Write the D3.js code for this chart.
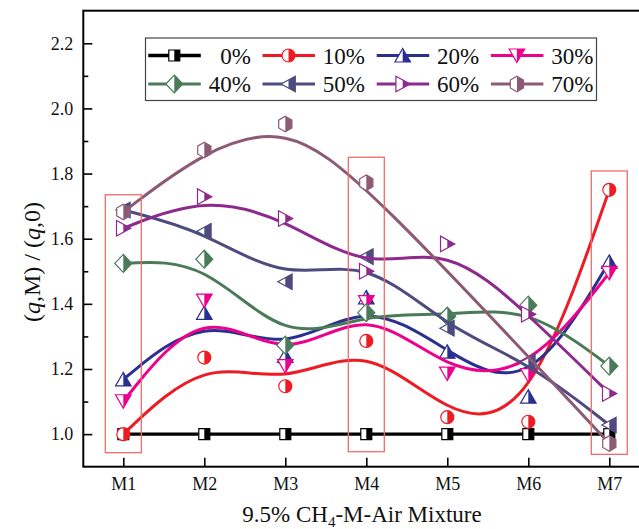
<!DOCTYPE html>
<html>
<head>
<meta charset="utf-8">
<script src="https://cdn.jsdelivr.net/npm/d3@7/dist/d3.min.js"></script>
<style>
  html, body { margin: 0; padding: 0; background: #fff; }
  svg { display: block; }
</style>
</head>
<body>
<svg id="chart" width="639" height="529"></svg>
<script>
// ---------------- data ----------------
const categories = ["M1", "M2", "M3", "M4", "M5", "M6", "M7"];
const seriesNames = ["0%", "10%", "20%", "30%", "40%", "50%", "60%", "70%"];
const values0  = [1.000, 1.000, 1.000, 1.000, 1.000, 1.000, 1.000];
const values10 = [1.000, 1.235, 1.147, 1.286, 1.052, 1.038, 1.750];
const values20 = [1.168, 1.372, 1.240, 1.420, 1.253, 1.115, 1.529];
const values30 = [1.101, 1.410, 1.209, 1.405, 1.186, 1.181, 1.495];
const values40 = [1.524, 1.537, 1.273, 1.373, 1.362, 1.396, 1.209];
const values50 = [1.688, 1.623, 1.468, 1.545, 1.325, 1.222, 1.028];
const values60 = [1.632, 1.729, 1.662, 1.500, 1.584, 1.368, 1.125];
const values70 = [1.682, 1.872, 1.952, 1.772, null, null, 0.971];
const yMajorTicks = [1.0, 1.2, 1.4, 1.6, 1.8, 2.0, 2.2];
const yMinorTicks = [1.1, 1.3, 1.5, 1.7, 1.9, 2.1];
// highlighted groups (category, value range)
const highlightCats = ["M1", "M4", "M7"];
const highlightLow  = [0.943, 0.946, 0.938];
const highlightHigh = [1.735, 1.850, 1.808];

// ---------------- styles ----------------
const FONT = "'Liberation Serif', 'Times New Roman', Times, serif";
const colors = ["#000000", "#ed1c24", "#2b2f8f", "#ec008c", "#4a7b59", "#4e4b7e", "#8e2a8e", "#8c5a74"];
const symbols = ["square", "circle", "triUp", "triDown", "diamond", "triLeft", "triRight", "hexagon"];
const allValues = [values0, values10, values20, values30, values40, values50, values60, values70];

const frame = { left: 83.3, right: 649.3, top: 10.7, bottom: 466.7 };

const svg = d3.select("#chart");
const defs = svg.append("defs");
defs.append("clipPath").attr("id", "rightHalf")
  .append("rect").attr("x", 0).attr("y", -20).attr("width", 20).attr("height", 40);
defs.append("clipPath").attr("id", "plotClip")
  .append("rect").attr("x", frame.left).attr("y", frame.top)
  .attr("width", frame.right - frame.left).attr("height", frame.bottom - frame.top);

const x = d3.scalePoint().domain(categories).range([123.3, 609.3]);
const y = d3.scaleLinear().domain([0.9, 2.3]).range([frame.bottom, frame.top]);

function symbolPath(kind) {
  switch (kind) {
    case "square":  return "M-5.5,-5.5H5.5V5.5H-5.5Z";
    case "circle":  return "M-6.5,0A6.5,6.5 0 1,0 6.5,0A6.5,6.5 0 1,0 -6.5,0Z";
    case "triUp":   return "M0,-7L7.8,6.5H-7.8Z";
    case "triDown": return "M0,7L7.8,-6.5H-7.8Z";
    case "diamond": return "M0,-9L8.5,0L0,9L-8.5,0Z";
    case "triLeft": return "M-7.5,0L6.8,-7.8V7.8Z";
    case "triRight":return "M7.5,0L-6.8,-7.8V7.8Z";
    case "hexagon": return "M0,-7.8L6.6,-3.9V3.9L0,7.8L-6.6,3.9V-3.9Z";
  }
}

function drawMarker(g, kind, color) {
  const p = symbolPath(kind);
  g.append("path").attr("d", p).attr("fill", "#fff");
  g.append("path").attr("d", p).attr("fill", color).attr("clip-path", "url(#rightHalf)");
  g.append("path").attr("d", p).attr("fill", "none").attr("stroke", color).attr("stroke-width", 1.2);
}

// ---------------- axes ----------------
const yAxis = d3.axisLeft(y).tickValues(yMajorTicks).tickFormat(d3.format(".1f"))
  .tickSizeInner(-9).tickSizeOuter(0).tickPadding(10);
const gy = svg.append("g").attr("transform", `translate(${frame.left},0)`).call(yAxis);
gy.select(".domain").remove();
gy.selectAll(".tick line").attr("stroke", "#000").attr("stroke-width", 1.6);
gy.selectAll(".tick text").attr("font-size", 18).attr("fill", "#111").attr("font-family", FONT);

const yMinor = d3.axisLeft(y).tickValues(yMinorTicks).tickFormat("").tickSizeInner(-5).tickSizeOuter(0);
const gym = svg.append("g").attr("transform", `translate(${frame.left},0)`).call(yMinor);
gym.select(".domain").remove();
gym.selectAll(".tick line").attr("stroke", "#000").attr("stroke-width", 1.6);

const xAxis = d3.axisBottom(x).tickSizeInner(-9).tickSizeOuter(0).tickPadding(11);
const gx = svg.append("g").attr("transform", `translate(0,${frame.bottom})`).call(xAxis);
gx.select(".domain").remove();
gx.selectAll(".tick line").attr("stroke", "#000").attr("stroke-width", 1.6);
gx.selectAll(".tick text").attr("font-size", 18).attr("fill", "#111").attr("font-family", FONT);

// frame
svg.append("rect").attr("x", frame.left).attr("y", frame.top)
  .attr("width", frame.right - frame.left).attr("height", frame.bottom - frame.top)
  .attr("fill", "none").attr("stroke", "#000").attr("stroke-width", 2);

// ---------------- series ----------------
const plot = svg.append("g").attr("clip-path", "url(#plotClip)");
const line = d3.line().x(d => x(d.cat)).y(d => y(d.v)).curve(d3.curveBasis);

allValues.forEach((vals, i) => {
  const pts = categories.map((c, j) => ({ cat: c, v: vals[j] })).filter(d => d.v !== null);
  const g = plot.append("g");
  g.append("path").datum(pts).attr("d", line)
    .attr("fill", "none").attr("stroke", colors[i]).attr("stroke-width", i === 0 ? 3.4 : 3)
    .attr("stroke-linejoin", "round");
  pts.forEach(d => {
    const m = g.append("g").attr("transform", `translate(${x(d.cat)},${y(d.v)})`);
    drawMarker(m, symbols[i], colors[i]);
  });
});

// highlight boxes
highlightCats.forEach((c, i) => {
  const y0 = y(highlightHigh[i]), y1 = y(highlightLow[i]);
  svg.append("rect").attr("x", x(c) - 18).attr("y", y0)
    .attr("width", 36).attr("height", y1 - y0)
    .attr("fill", "none").attr("stroke", "#f26b6b").attr("stroke-width", 1.3);
});

// ---------------- legend ----------------
const lg = svg.append("g");
lg.append("rect").attr("x", 145.5).attr("y", 38).attr("width", 451).attr("height", 62.5)
  .attr("fill", "#fff").attr("stroke", "#444").attr("stroke-width", 1.2);
seriesNames.forEach((name, i) => {
  const col = i % 4, row = Math.floor(i / 4);
  const x0 = 148.3 + col * 114.2;
  const yy = 55.5 + row * 28.5;
  lg.append("line").attr("x1", x0).attr("x2", x0 + 52.5).attr("y1", yy).attr("y2", yy)
    .attr("stroke", colors[i]).attr("stroke-width", i === 0 ? 3.4 : 3);
  const m = lg.append("g").attr("transform", `translate(${x0 + 26},${yy})`);
  drawMarker(m, symbols[i], colors[i]);
  lg.append("text").attr("x", x0 + 102.5).attr("y", yy + 8).attr("text-anchor", "end")
    .attr("font-family", FONT).attr("fill", "#111").attr("font-size", 23).text(name);
});

// ---------------- titles ----------------
const xt = svg.append("text").attr("x", 362).attr("y", 522).attr("text-anchor", "middle")
  .attr("font-family", FONT).attr("fill", "#111").attr("font-size", 23);
xt.append("tspan").text("9.5% CH");
xt.append("tspan").attr("font-size", 15).attr("dy", 5).text("4");
xt.append("tspan").attr("dy", -5).text("-M-Air Mixture");

const yt = svg.append("text").attr("transform", "translate(40,262) rotate(-90)")
  .attr("text-anchor", "middle").attr("font-family", FONT).attr("fill", "#111").attr("font-size", 24);
yt.append("tspan").text("(");
yt.append("tspan").attr("font-style", "italic").text("q");
yt.append("tspan").text(",M) / (");
yt.append("tspan").attr("font-style", "italic").text("q");
yt.append("tspan").text(",0)");
</script>
</body>
</html>
